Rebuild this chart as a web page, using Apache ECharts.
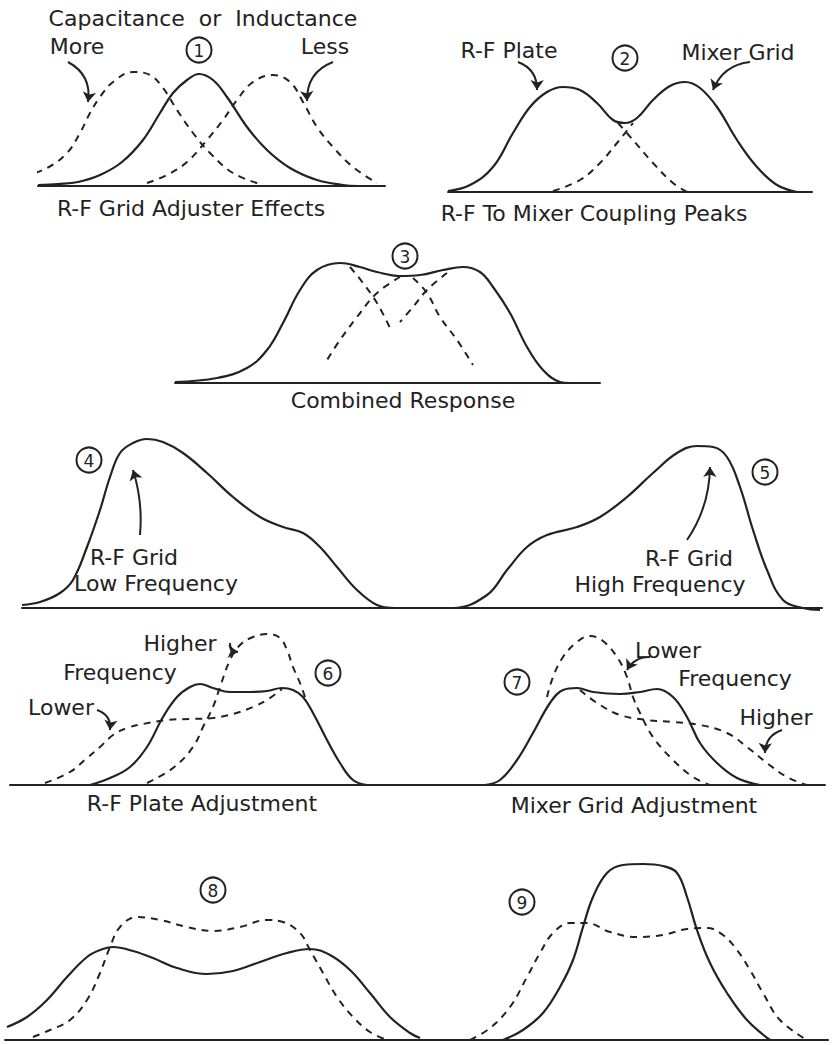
<!DOCTYPE html>
<html>
<head>
<meta charset="utf-8">
<style>
  html, body { margin: 0; padding: 0; background: #fff; }
  #main { width: 833px; height: 1045px; }
</style>
<script src="https://cdn.jsdelivr.net/npm/echarts@6/dist/echarts.min.js"></script>
</head>
<body>
<div id="main"></div>
<script>
// values: [x along the baseline, height above the baseline]

// (1) R-F grid adjuster effects
var p1Solid = [[0,1],[20,2],[40,4],[62,11],[84,24],[105,46],[122,73],[135,93],[149,106],[161,112],[175,106],[189,89],[209,59],[229,36],[252,18],[279,6],[305,1],[320,0]];
var p1More = [[-15,9],[9,18],[29,33],[42,53],[52,73],[62,89],[75,104],[95,114],[112,111],[125,98],[139,76],[155,53],[172,33],[195,13],[222,2]];
var p1Less = [[109,3],[129,11],[149,24],[169,46],[185,66],[199,86],[215,104],[235,111],[252,104],[265,84],[279,59],[295,39],[315,19],[339,3]];

// (2) R-F to mixer coupling peaks
var p2Solid = [[0,1],[22,7],[45,25],[65,59],[82,85],[99,100],[115,105],[132,102],[149,89],[165,72],[177,69],[189,74],[205,92],[222,106],[237,110],[252,104],[269,85],[289,52],[309,25],[329,7],[349,0]];
var p2Rise = [[105,1],[132,12],[152,29],[169,49],[185,69]];
var p2Fall = [[170,69],[185,52],[205,29],[225,9],[239,0]];

// (3) combined response
var p3Solid = [[0,1],[42,5],[72,15],[92,33],[108,60],[125,93],[142,113],[165,120],[185,116],[202,111],[225,107],[245,108],[268,113],[288,116],[305,111],[318,96],[335,70],[352,36],[368,13],[385,1],[395,0]];
var p3DashA = [[175,116],[188,100],[202,80],[215,55]];
var p3DashB = [[225,106],[202,90],[182,66],[165,43],[152,23]];
var p3DashC = [[272,110],[252,93],[238,76],[225,61]];
var p3DashD = [[238,105],[252,90],[265,66],[282,43],[298,18]];

// (4) and (5) R-F grid, low and high frequency
var p45Solid = [[0,3],[18,6],[38,15],[51,28],[65,61],[78,98],[88,131],[98,155],[111,165],[125,169],[141,166],[161,155],[185,135],[211,111],[238,91],[261,81],[281,75],[298,61],[315,41],[335,18],[355,3],[373,0],[408,0],
  [431,0],[465,13],[485,38],[505,61],[525,73],[555,81],[578,91],[605,111],[631,135],[655,155],[675,162],[691,161],[705,151],[718,121],[731,78],[745,38],[761,8],[781,0],[798,-2]];

// (6) R-F plate adjustment, (7) mixer grid adjustment
var p6Solid = [[80,0],[100,7],[120,18],[137,38],[153,68],[167,88],[180,98],[190,101],[203,97],[220,93],[240,93],[257,94],[272,97],[283,95],[293,88],[303,72],[317,45],[330,22],[343,5],[357,0]];
var p6Higher = [[137,2],[163,17],[183,38],[193,58],[203,78],[210,98],[220,125],[230,140],[243,148],[257,151],[270,147],[277,135],[283,118],[290,102],[295,88]];
var p6Lower = [[35,2],[60,13],[77,27],[90,38],[103,50],[117,57],[133,61],[157,65],[180,66],[203,67],[223,71],[243,78],[257,85],[272,96]];
var p7Solid = [[475,0],[490,5],[507,25],[523,52],[540,82],[553,95],[567,97],[583,93],[610,91],[630,93],[647,96],[663,88],[677,68],[690,42],[707,22],[727,7],[750,0]];
var p7Lower = [[537,88],[543,108],[553,128],[567,143],[580,149],[593,144],[607,128],[617,108],[623,88],[630,72],[643,48],[663,25],[683,8],[700,0]];
var p7Higher = [[570,95],[587,82],[610,70],[637,65],[663,63],[690,60],[717,52],[737,38],[757,22],[777,8],[797,0]];

// (8) and (9)
var p8Solid = [[2,13],[22,23],[42,40],[62,63],[82,83],[95,90],[108,93],[128,89],[148,82],[172,72],[202,66],[228,69],[255,78],[282,87],[305,91],[325,85],[345,70],[365,47],[385,23],[405,7],[415,2]];
var p8Dash = [[28,3],[45,10],[65,20],[82,40],[95,67],[105,93],[115,113],[132,123],[155,120],[182,113],[208,109],[235,113],[262,120],[278,118],[295,107],[305,90],[318,67],[332,43],[348,23],[365,8],[382,0]];
var p9Solid = [[498,0],[518,10],[538,27],[555,53],[568,80],[578,113],[588,143],[602,167],[618,175],[638,176],[658,174],[672,167],[682,143],[692,110],[705,77],[722,47],[742,20],[765,0]];
var p9Dash = [[465,0],[485,12],[505,33],[522,63],[535,87],[548,107],[565,117],[582,117],[605,108],[632,103],[658,105],[682,111],[702,112],[718,105],[732,90],[745,70],[758,47],[775,20],[802,0]];

// pointer arrows: [panel, from, to, curveness]
var arrows = [
  [0, [30,124], [50,84], 0.35],
  [0, [295,124], [269,85], -0.35],
  [1, [70,130], [89,102], 0.35],
  [1, [302,130], [265,102], -0.3],
  [3, [118,73], [111,138], -0.1],
  [3, [665,68], [688,141], -0.15],
  [4, [87,75], [100,55], 0.4],
  [4, [220,142], [228,133], -0.5],
  [4, [640,128], [617,115], -0.3],
  [4, [772,55], [755,32], -0.35]
];

// panel frames: baseline span and height
var panels = [
  { left: 38, top: 56, width: 347, height: 130 },
  { left: 448, top: 62, width: 364, height: 130 },
  { left: 175, top: 253, width: 425, height: 130 },
  { left: 22, top: 428, width: 800, height: 180 },
  { left: 10, top: 625, width: 815, height: 160 },
  { left: 5, top: 860, width: 823, height: 180 }
];

var labels = [
  ['Capacitance  or  Inductance', 203, 18],
  ['More', 77, 46],
  ['Less', 325, 46],
  ['R-F Grid Adjuster Effects', 191, 208],
  ['R-F Plate', 509, 50],
  ['Mixer Grid', 738, 52],
  ['R-F To Mixer Coupling Peaks', 594, 213],
  ['Combined Response', 403, 400],
  ['R-F Grid', 134, 557],
  ['Low Frequency', 156, 583],
  ['R-F Grid', 689, 558],
  ['High Frequency', 660, 584],
  ['Higher', 180, 643],
  ['Frequency', 120, 672],
  ['Lower', 61, 707],
  ['R-F Plate Adjustment', 202, 803],
  ['Lower', 668, 650],
  ['Frequency', 735, 678],
  ['Higher', 776, 717],
  ['Mixer Grid Adjustment', 634, 805]
];
var numbers = [['1', 199, 50], ['2', 625, 58], ['3', 405, 256], ['4', 89, 460], ['5', 765, 472],
  ['6', 328, 673], ['7', 517, 682], ['8', 213, 890], ['9', 522, 902]];

var ink = '#222';
var font = 'DejaVu Sans';

var myChart = echarts.init(document.getElementById('main'), null, { renderer: 'svg' });

var grids = [], xAxes = [], yAxes = [];
panels.forEach(function (p) {
    grids.push({ left: p.left, top: p.top, width: p.width, height: p.height });
    xAxes.push({
        type: 'value', gridIndex: grids.length - 1, min: 0, max: p.width,
        axisLine: { show: true, lineStyle: { color: ink, width: 2 } },
        axisTick: { show: false }, axisLabel: { show: false }, splitLine: { show: false }
    });
    yAxes.push({
        type: 'value', gridIndex: grids.length - 1, min: 0, max: p.height, show: false
    });
});

var series = [];
function curve(idx, data, dashed) {
    series.push({
        type: 'line', xAxisIndex: idx, yAxisIndex: idx, data: data,
        smooth: 0.4, symbol: 'none', clip: false, silent: true,
        lineStyle: dashed
            ? { color: ink, width: 2, type: [7, 6] }
            : { color: ink, width: 2.2 }
    });
}
curve(0, p1Solid); curve(0, p1More, true); curve(0, p1Less, true);
curve(1, p2Solid); curve(1, p2Rise, true); curve(1, p2Fall, true);
curve(2, p3Solid); curve(2, p3DashA, true); curve(2, p3DashB, true); curve(2, p3DashC, true); curve(2, p3DashD, true);
curve(3, p45Solid);
curve(4, p6Solid); curve(4, p6Higher, true); curve(4, p6Lower, true);
curve(4, p7Solid); curve(4, p7Lower, true); curve(4, p7Higher, true);
curve(5, p8Solid); curve(5, p8Dash, true);
curve(5, p9Solid); curve(5, p9Dash, true);

arrows.forEach(function (a) {
    series.push({
        type: 'lines', coordinateSystem: 'cartesian2d', xAxisIndex: a[0], yAxisIndex: a[0],
        symbol: ['none', 'arrow'], symbolSize: 10, silent: true,
        lineStyle: { color: ink, width: 2, opacity: 1, curveness: a[3] },
        itemStyle: { color: ink, opacity: 1 },
        data: [{ coords: [a[1], a[2]] }]
    });
});

var graphic = [];
labels.forEach(function (l) {
    graphic.push({
        type: 'text', x: l[1], y: l[2],
        style: { text: l[0], fill: ink, font: '22px "' + font + '"', align: 'center', verticalAlign: 'middle' }
    });
});
numbers.forEach(function (n) {
    graphic.push({
        type: 'circle', shape: { cx: n[1], cy: n[2], r: 12.5 },
        style: { fill: 'none', stroke: ink, lineWidth: 2 }
    });
    graphic.push({
        type: 'text', x: n[1], y: n[2] + 1,
        style: { text: n[0], fill: ink, font: '17px "' + font + '"', align: 'center', verticalAlign: 'middle' }
    });
});

myChart.setOption({
    backgroundColor: '#fff',
    animation: false,
    grid: grids,
    xAxis: xAxes,
    yAxis: yAxes,
    series: series,
    graphic: graphic
});
</script>
</body>
</html>
